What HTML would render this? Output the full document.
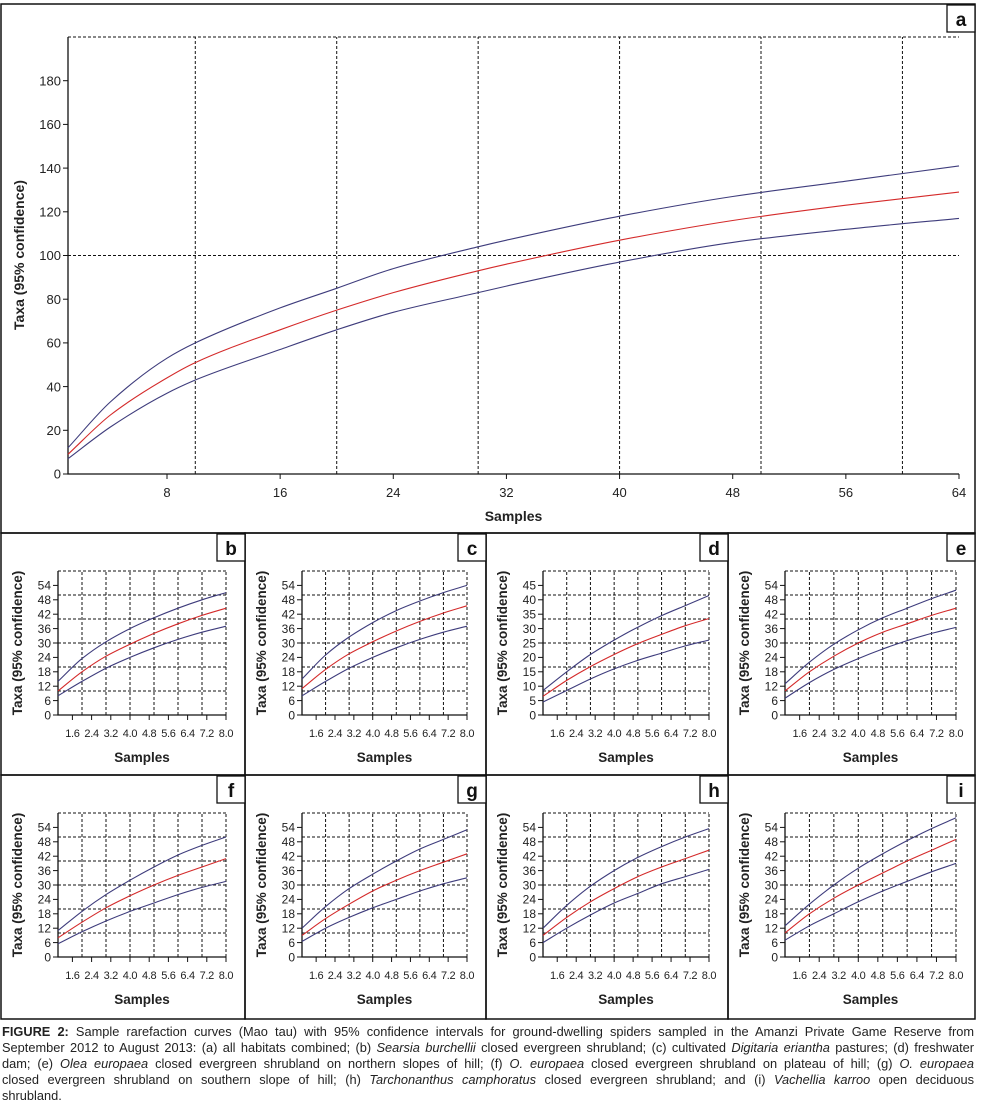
<!DOCTYPE html>
<html><head><meta charset="utf-8">
<style>
body{margin:0;background:#fff;width:986px;height:1109px;overflow:hidden;font-family:"Liberation Sans",sans-serif;}
svg{position:absolute;left:0;top:0;}
.cap{position:absolute;left:2px;top:1024px;width:972px;font-size:12.8px;color:#222;}
.cap div{height:16px;line-height:16px;text-align:justify;text-align-last:justify;white-space:nowrap;}
.cap div.last{text-align-last:left;}
</style></head>
<body>
<svg id="fig" width="986" height="1020"></svg>
<div class="cap">
<div><b>FIGURE 2:</b> Sample rarefaction curves (Mao tau) with 95% confidence intervals for ground-dwelling spiders sampled in the Amanzi Private Game Reserve from</div>
<div>September 2012 to August 2013: (a) all habitats combined; (b) <i>Searsia burchellii</i> closed evergreen shrubland; (c) cultivated <i>Digitaria eriantha</i> pastures; (d) freshwater</div>
<div>dam; (e) <i>Olea europaea</i> closed evergreen shrubland on northern slopes of hill; (f) <i>O. europaea</i> closed evergreen shrubland on plateau of hill; (g) <i>O. europaea</i></div>
<div>closed evergreen shrubland on southern slope of hill; (h) <i>Tarchonanthus camphoratus</i> closed evergreen shrubland; and (i) <i>Vachellia karroo</i> open deciduous</div>
<div class="last">shrubland.</div>
</div>
<script>
// Panel a data
const aSamples=[1,4,8,10,16,20,24,30,32,40,48,56,64];
const aUpper=[12,33,53,60,76,85,94,104,107,118,127,134,141];
const aMean=[9,27,44,51,66,75,83,93,96,107,116,123,129];
const aLower=[7,21.5,37,43,57,66,74,83,86,97,106,112,117];
const aXTicks=[8,16,24,32,40,48,56,64];
const aYTicks=[0,20,40,60,80,100,120,140,160,180];
const aXGrid=[10,20,30,40,50,60];
const aYGrid=[100,200];
// Small panels data
const smallSamples=[1,2,3,4,5,6,7,8];
const smallXTicks=[1.6,2.4,3.2,4.0,4.8,5.6,6.4,7.2,8.0];
const smallXGrid=[2,3,4,5,6,7,8];
const yTicks60=[0,6,12,18,24,30,36,42,48,54];
const yGrid60=[10,20,30,40,50,60];
const yTicks50=[0,5,10,15,20,25,30,35,40,45];
const yGrid50=[50/6,100/6,25,100/3,250/6,50];
const panelLabels=['b','c','d','e','f','g','h','i'];
const bUpper=[14,23.5,30.5,36,40.5,44.5,48,51], bMean=[10,18,24.5,29.5,34,38,41.5,44.5], bLower=[8,14,19.5,24,28,31.5,34.5,37];
const cUpper=[15,25,32.5,38.5,43.5,47.5,51,54], cMean=[11,19,25.5,30.5,35,39,42.5,45.5], cLower=[8,14,19.5,24,28,31.5,34.5,37];
const dUpper=[8.5,15,21,26,30.5,34.5,38,41.5], dMean=[6.5,12,16.8,21,24.8,28,31,33.5], dLower=[4.5,8.5,12.5,16,19,21.5,24,26];
const eUpper=[13,22,29.5,35.5,40.5,44.5,48.5,52], eMean=[10,18,24.5,30,34.5,38,41.5,44.5], eLower=[7,13.5,19,23.5,27.5,31,34,36.5];
const fUpper=[11,19,26,32,37.5,42.5,46.5,50], fMean=[8,14.5,20.5,25.5,30,34,37.5,41], fLower=[5.5,10.5,15,19,22.5,26,29,31.5];
const gUpper=[12,21,28.5,34.5,40,45,49,53], gMean=[9,16,22,27.5,32,36,39.5,43], gLower=[6.5,12,16.5,20.5,24,27.5,30.5,33];
const hUpper=[12,21.5,29.5,36,41.5,46,50,53.5], hMean=[9,16.5,23,28.5,33.5,37.5,41,44.5], hLower=[6,12,17.5,22.5,26.5,30.5,33.5,36.5];
const iUpper=[13,22,30,37,43,48.5,53.5,58], iMean=[10,18,24.5,30,35,40,44.5,49], iLower=[7,13,18,23,27.5,31.5,35.5,39];

const NS='http://www.w3.org/2000/svg';
const svg=document.getElementById('fig');
function mk(tag,attrs,parent,txt){const e=document.createElementNS(NS,tag);for(const k in attrs)e.setAttribute(k,attrs[k]);if(txt!==undefined)e.textContent=txt;(parent||svg).appendChild(e);return e;}
const BLUE='#3e3c7c',RED='#d42a2a';
function spline(p){const n=p.length,d=[],m=[];
 for(let i=0;i<n-1;i++)d.push((p[i+1][1]-p[i][1])/(p[i+1][0]-p[i][0]));
 m[0]=d[0];m[n-1]=d[n-2];
 for(let i=1;i<n-1;i++){if(d[i-1]*d[i]<=0)m[i]=0;else{const h0=p[i][0]-p[i-1][0],h1=p[i+1][0]-p[i][0];const w1=2*h1+h0,w2=h1+2*h0;m[i]=(w1+w2)/(w1/d[i-1]+w2/d[i]);}}
 let s='M'+p[0][0].toFixed(1)+','+p[0][1].toFixed(1);
 for(let i=0;i<n-1;i++){const h=(p[i+1][0]-p[i][0])/3;
  s+=' C'+(p[i][0]+h).toFixed(1)+','+(p[i][1]+m[i]*h).toFixed(1)+' '+(p[i+1][0]-h).toFixed(1)+','+(p[i+1][1]-m[i+1]*h).toFixed(1)+' '+p[i+1][0].toFixed(1)+','+p[i+1][1].toFixed(1);}
 return s;}

function box(x1,y1,x2,y2,name){const r=mk('rect',{x:x1,y:y1,width:x2-x1,height:y2-y1,fill:'none',stroke:'#111','stroke-width':1.5});
 }

function chart(o){
 const g=mk('g',{});
 
 
 const X=v=>o.px0+(v-o.xmin)/(o.xmax-o.xmin)*(o.px1-o.px0);
 const Y=v=>o.py0-(v-o.ymin)/(o.ymax-o.ymin)*(o.py0-o.py1);
 const dash={stroke:'#111','stroke-width':1,'stroke-dasharray':'3,2',fill:'none'};
 o.xgrid.forEach(v=>{const l=mk('line',Object.assign({x1:X(v),x2:X(v),y1:o.py0,y2:o.py1},dash),g);});
 o.ygrid.forEach(v=>{const l=mk('line',Object.assign({x1:o.px0,x2:X(o.xmax),y1:Y(v),y2:Y(v)},dash),g);});
 if(o.topline){const l=mk('line',Object.assign({x1:o.px0,x2:o.px1,y1:o.py1,y2:o.py1},dash),g);}
 const ax=mk('path',{d:`M${o.px0},${o.py1} V${o.py0} H${o.px1}`,stroke:'#111','stroke-width':1.3,fill:'none'},g);
 
 o.yticks.forEach(v=>{const y=Y(v);mk('line',{x1:o.px0-5,x2:o.px0,y1:y,y2:y,stroke:'#111','stroke-width':1},g);
  const t=mk('text',{x:o.px0-7,y:y+o.fs*0.36,'text-anchor':'end','font-size':o.fs,fill:'#222'},g,String(v));
  });
 o.xticks.forEach(v=>{const x=X(v);mk('line',{x1:x,x2:x,y1:o.py0,y2:o.py0+5,stroke:'#111','stroke-width':1},g);
  const t=mk('text',{x:x,y:o.py0+o.xlabOff,'text-anchor':'middle','font-size':o.xfs||o.fs,fill:'#222','letter-spacing':o.xls||0},g,o.fix?v.toFixed(1):String(v));
  });
 const xt=mk('text',{x:(o.px0+o.px1)/2,y:o.xtitleY,'text-anchor':'middle','font-size':o.tfs,'font-weight':'bold',fill:'#222'},g,'Samples');
 
 const cy=o.ytitleCY;
 const yt=mk('text',{x:o.ytitleX,y:cy,'text-anchor':'middle','font-size':o.tfs,'font-weight':'bold',fill:'#222',transform:`rotate(-90 ${o.ytitleX} ${cy})`},g,'Taxa (95% confidence)');
 
 [[o.upper,BLUE,'upper-ci-line'],[o.lower,BLUE,'lower-ci-line'],[o.mean,RED,'mean-rarefaction-line']].forEach(([arr,c,n])=>{
  const p=mk('path',{d:spline(o.xs.map((x,i)=>[X(x),Y(arr[i])])),stroke:c,'stroke-width':1.1,fill:'none'},g);
  });
 const lb=mk('rect',{x:o.R-28,y:o.T+1,width:28,height:27,fill:'#fff',stroke:'#111','stroke-width':1.3},g);
 
 const lt=mk('text',{x:o.R-14,y:o.T+22,'text-anchor':'middle','font-size':19,'font-weight':'bold',fill:'#111'},g,o.label);
 
}

box(1,4,975,533,'panel-a-frame');
const cols=[1,245,486,728,975];
const rows=[533,775,1019];
for(let r=0;r<2;r++)for(let c=0;c<4;c++)box(cols[c],rows[r],cols[c+1],rows[r+1],'panel-'+panelLabels[r*4+c]+'-frame');

chart({name:'panel-a-chart',label:'a',R:975,T:4,xs:aSamples,upper:aUpper,mean:aMean,lower:aLower,
 xmin:1,xmax:64,ymin:0,ymax:200,px0:68,px1:959,py0:474,py1:37,xticks:aXTicks,yticks:aYTicks,xgrid:aXGrid,ygrid:aYGrid,
 topline:true,fs:13,tfs:14,xlabOff:23,xtitleY:521,ytitleX:24,ytitleCY:255,fix:false});

const small=[[bUpper,bMean,bLower],[cUpper,cMean,cLower],[dUpper,dMean,dLower],[eUpper,eMean,eLower],[fUpper,fMean,fLower],[gUpper,gMean,gLower],[hUpper,hMean,hLower],[iUpper,iMean,iLower]];
small.forEach((s,k)=>{const r=Math.floor(k/4),c=k%4;const L=cols[c],R=cols[c+1],T=rows[r];const is50=panelLabels[k]==='d';
 chart({name:'panel-'+panelLabels[k]+'-chart',label:panelLabels[k],R:R,T:T,xs:smallSamples,upper:s[0],mean:s[1],lower:s[2],
  xmin:1,xmax:8,ymin:0,ymax:is50?50:60,px0:L+57,px1:R-19,py0:T+182,py1:T+38,xticks:smallXTicks,yticks:is50?yTicks50:yTicks60,
  xgrid:smallXGrid,ygrid:is50?yGrid50:yGrid60,topline:false,fs:12,xfs:11,xls:-0.3,tfs:13.5,xlabOff:22,xtitleY:T+229,ytitleX:L+21,ytitleCY:T+110,fix:true});
});
</script>
</body></html>
